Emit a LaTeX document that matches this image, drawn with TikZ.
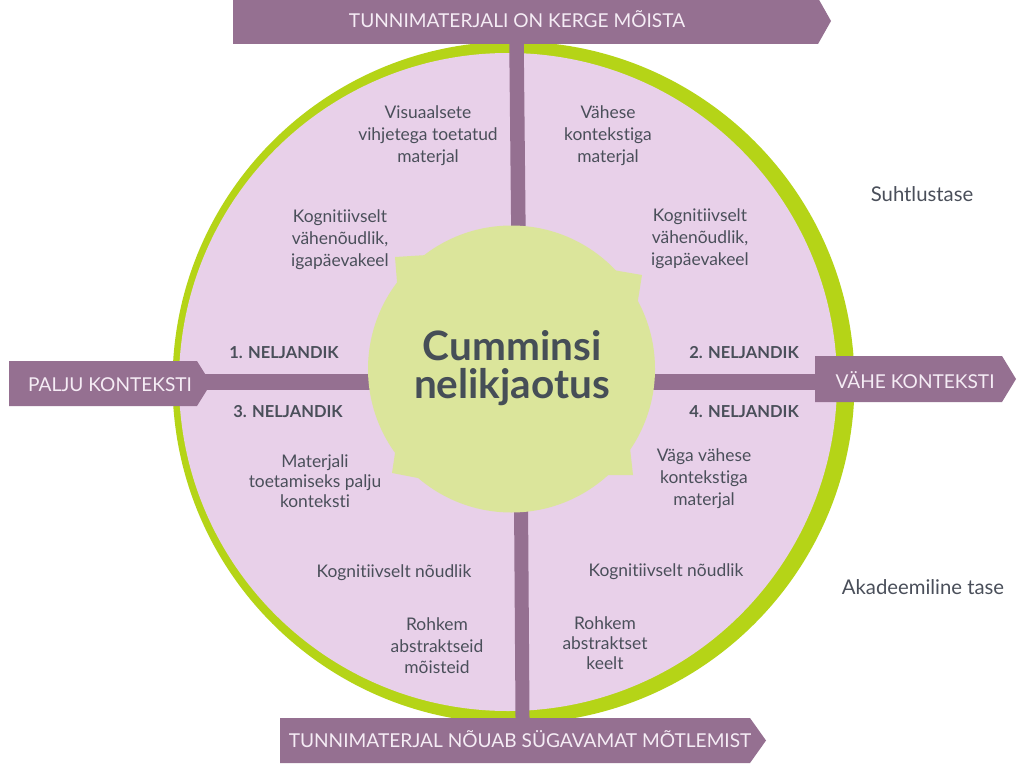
\documentclass[tikz,border=0pt]{standalone}
\usepackage{fontspec}
\setmainfont{Lato}[Ligatures=NoCommon]
\definecolor{purp}{HTML}{957091}
\definecolor{pinkd}{HTML}{E8D0E9}
\definecolor{lime}{HTML}{B5D417}
\definecolor{pale}{HTML}{DBE59B}
\definecolor{ink}{HTML}{4A4F5A}
\definecolor{titlec}{HTML}{464E57}
\definecolor{wtxt}{HTML}{F5ECF5}
\begin{document}
\begin{tikzpicture}[x=1pt,y=-1pt,
  body/.style={text=ink, font=\fontsize{17.4}{22}\selectfont, align=center, inner sep=0pt},
  quad/.style={text=ink, font=\fontsize{16.5}{18}\selectfont\bfseries, inner sep=0pt, text height=11.8pt, text depth=0pt},
  side/.style={text=ink, font=\fontsize{20.3}{22}\selectfont, inner sep=0pt},
  albl/.style={text=wtxt, font=\fontsize{19.1}{20}\selectfont, inner sep=0pt, text height=13.7pt, text depth=0pt},
  bar/.style={draw=purp, line cap=butt},
  arrowshape/.style={fill=purp}]
\useasboundingbox (0,0) rectangle (1024,765);
\fill[white] (0,0) rectangle (1024,765);
% outer discs
\fill[lime] (513.5,382.5) circle[radius=341pt];
\fill[pinkd] (508,382) circle[radius=329pt];
% connector ends
\coordinate (hubc) at (511.5,369);
\coordinate (tf) at (516.5,44);
\coordinate (ti) at (518.5,240);
\coordinate (bi) at (521,500);
\coordinate (bf) at (522.5,718);
\coordinate (lf) at (205,382);
\coordinate (li) at (380,382);
\coordinate (ri) at (640,382);
\coordinate (rf) at (815,382);
\draw[bar, line width=14.5pt] (tf) -- (ti);
\draw[bar, line width=14pt] (bi) -- (bf);
\draw[bar, line width=16pt] (lf) -- (li);
\draw[bar, line width=16pt] (ri) -- (rf);
% hub
\fill[pale] (427,255) -- (395,257) -- (397,282) -- (395,453) -- (392,473) -- (418,478) -- (607,475) -- (633,475) -- (630,448) -- (638,300) -- (642,275) -- (613,270) -- cycle;
\node[circle, fill=pale, minimum size=287pt, inner sep=0pt] (hub) at (hubc) {};
\node[text=titlec, font=\fontsize{40.5}{37.5}\selectfont\bfseries, align=center, inner sep=0pt] (title) at (512,368) {Cumminsi\\nelikjaotus};
% arrows
\fill[arrowshape] (233,-2) -- (818,-2) -- (831,21) -- (818,44) -- (233,44) -- cycle;
\fill[arrowshape] (9,361) -- (197,361) -- (211,383.5) -- (197,406) -- (9,406) -- cycle;
\fill[arrowshape] (815,356) -- (1002,356) -- (1016,379) -- (1002,402) -- (815,402) -- cycle;
\fill[arrowshape] (280,718) -- (750,718) -- (766,740.5) -- (750,763) -- (280,763) -- cycle;
\node[albl] (topl) at (517,21) {TUNNIMATERJALI ON KERGE MÕISTA};
\node[albl] (leftl) at (110,385) {PALJU KONTEKSTI};
\node[albl] (rightl) at (915,381.5) {VÄHE KONTEKSTI};
\node[albl] (botl) at (520,741) {TUNNIMATERJAL NÕUAB SÜGAVAMAT MÕTLEMIST};
% quadrant labels
\node[quad] (q1) at (284,353) {1. NELJANDIK};
\node[quad] (q2) at (744,353) {2. NELJANDIK};
\node[quad] (q3) at (288,412) {3. NELJANDIK};
\node[quad] (q4) at (744,412) {4. NELJANDIK};
% body texts
\node[body] (tla) at (428,136) {Visuaalsete\\vihjetega toetatud\\materjal};
\node[body] (tlb) at (340,240) {Kognitiivselt\\vähenõudlik,\\igapäevakeel};
\node[body] (tra) at (608,136) {Vähese\\kontekstiga\\materjal};
\node[body] (trb) at (700,239) {Kognitiivselt\\vähenõudlik,\\igapäevakeel};
\node[body, font=\fontsize{17.4}{20}\selectfont] (bla) at (315,481) {Materjali\\toetamiseks palju\\konteksti};
\node[body] (blb) at (394,573) {Kognitiivselt nõudlik};
\node[body, font=\fontsize{17.4}{21.5}\selectfont] (blc) at (437,646) {Rohkem\\abstraktseid\\mõisteid};
\node[body] (bra) at (704,479) {Väga vähese\\kontekstiga\\materjal};
\node[body] (brb) at (666,572) {Kognitiivselt nõudlik};
\node[body, font=\fontsize{17.4}{20}\selectfont] (brc) at (605,643) {Rohkem\\abstraktset\\keelt};
% side labels
\node[side] (s1) at (922,194) {Suhtlustase};
\node[side] (s2) at (923,587) {Akadeemiline tase};
\end{tikzpicture}
\end{document}
